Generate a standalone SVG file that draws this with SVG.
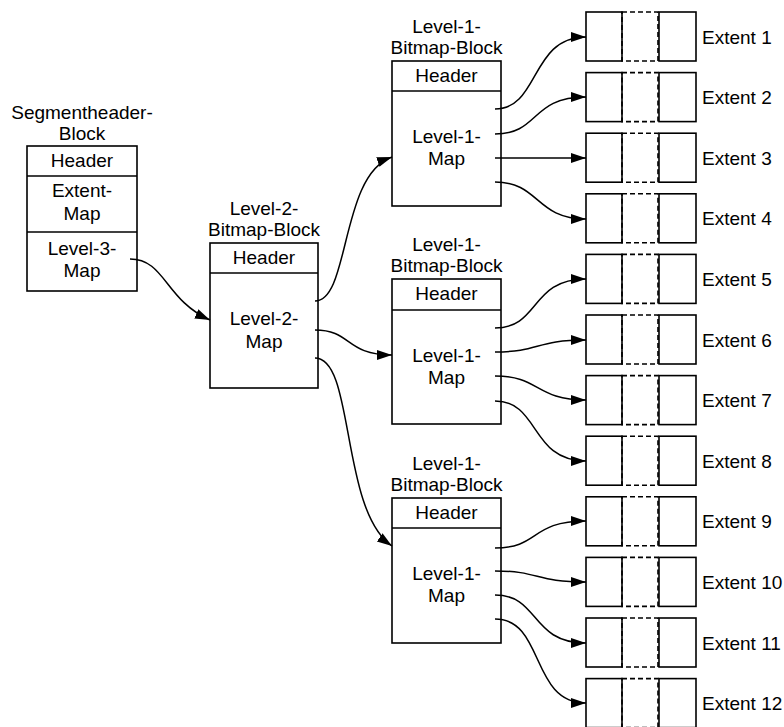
<svg xmlns="http://www.w3.org/2000/svg" width="784" height="727" viewBox="0 0 784 727">
<style>
  .box { fill: #ffffff; stroke: #000000; stroke-width: 1.6; }
  .sep { stroke: #000000; stroke-width: 1.6; fill: none; }
  .dash { fill: none; stroke: #000000; stroke-width: 1.6; stroke-dasharray: 5 3; }
  .t { font-family: "Liberation Sans", Arial, sans-serif; font-size: 19px; fill: #000000; text-anchor: middle; }
  .tl { font-family: "Liberation Sans", Arial, sans-serif; font-size: 19px; fill: #000000; }
  .c { fill: none; stroke: #000000; stroke-width: 1.5; marker-end: url(#arr); }
</style>
<defs>
  <marker id="arr" markerUnits="userSpaceOnUse" markerWidth="16" markerHeight="12" refX="15" refY="5" orient="auto">
    <path d="M0,0 L15,5 L0,10 z" fill="#000000"/>
  </marker>
  <g id="ext">
    <rect class="box" x="0" y="0" width="36" height="49"/>
    <rect class="dash" x="36" y="0" width="36" height="49"/>
    <rect class="box" x="73" y="0" width="37" height="49"/>
  </g>
</defs>
<rect width="784" height="727" fill="#ffffff"/>

<g id="segmentheader-block">
  <text class="t" x="82" y="119">Segmentheader-</text>
  <text class="t" x="82" y="140">Block</text>
  <rect class="box" x="27" y="146" width="110" height="145"/>
  <line class="sep" x1="27" y1="176" x2="137" y2="176"/>
  <line class="sep" x1="27" y1="232" x2="137" y2="232"/>
  <text class="t" x="82" y="167">Header</text>
  <text class="t" x="82" y="197">Extent-</text>
  <text class="t" x="82" y="220">Map</text>
  <text class="t" x="82" y="255">Level-3-</text>
  <text class="t" x="82" y="277">Map</text>
</g>

<g id="level2-block">
  <text class="t" x="264" y="215">Level-2-</text>
  <text class="t" x="264" y="236">Bitmap-Block</text>
  <rect class="box" x="210" y="243" width="108" height="145"/>
  <line class="sep" x1="210" y1="273" x2="318" y2="273"/>
  <text class="t" x="264" y="264">Header</text>
  <text class="t" x="264" y="325">Level-2-</text>
  <text class="t" x="264" y="348">Map</text>
</g>

<g id="level1-block-1">
  <text class="t" x="446.5" y="33">Level-1-</text>
  <text class="t" x="446.5" y="54">Bitmap-Block</text>
  <rect class="box" x="392" y="61" width="109" height="145"/>
  <line class="sep" x1="392" y1="91" x2="501" y2="91"/>
  <text class="t" x="446.5" y="82">Header</text>
  <text class="t" x="446.5" y="143">Level-1-</text>
  <text class="t" x="446.5" y="165">Map</text>
</g>

<g id="level1-block-2">
  <text class="t" x="446.5" y="251">Level-1-</text>
  <text class="t" x="446.5" y="272">Bitmap-Block</text>
  <rect class="box" x="392" y="279" width="109" height="145"/>
  <line class="sep" x1="392" y1="310" x2="501" y2="310"/>
  <text class="t" x="446.5" y="300">Header</text>
  <text class="t" x="446.5" y="362">Level-1-</text>
  <text class="t" x="446.5" y="384">Map</text>
</g>

<g id="level1-block-3">
  <text class="t" x="446.5" y="470">Level-1-</text>
  <text class="t" x="446.5" y="491">Bitmap-Block</text>
  <rect class="box" x="392" y="498" width="109" height="145"/>
  <line class="sep" x1="392" y1="528" x2="501" y2="528"/>
  <text class="t" x="446.5" y="519">Header</text>
  <text class="t" x="446.5" y="580">Level-1-</text>
  <text class="t" x="446.5" y="602">Map</text>
</g>

<g id="extent-1"><use href="#ext" x="586" y="12"/><text class="tl" x="702" y="43.5">Extent 1</text></g>
<g id="extent-2"><use href="#ext" x="586" y="72.6"/><text class="tl" x="702" y="104">Extent 2</text></g>
<g id="extent-3"><use href="#ext" x="586" y="133.2"/><text class="tl" x="702" y="164.5">Extent 3</text></g>
<g id="extent-4"><use href="#ext" x="586" y="193.8"/><text class="tl" x="702" y="225">Extent 4</text></g>
<g id="extent-5"><use href="#ext" x="586" y="254.4"/><text class="tl" x="702" y="286">Extent 5</text></g>
<g id="extent-6"><use href="#ext" x="586" y="315"/><text class="tl" x="702" y="346.5">Extent 6</text></g>
<g id="extent-7"><use href="#ext" x="586" y="375.6"/><text class="tl" x="702" y="407">Extent 7</text></g>
<g id="extent-8"><use href="#ext" x="586" y="436.2"/><text class="tl" x="702" y="467.5">Extent 8</text></g>
<g id="extent-9"><use href="#ext" x="586" y="496.8"/><text class="tl" x="702" y="528">Extent 9</text></g>
<g id="extent-10"><use href="#ext" x="586" y="557.4"/><text class="tl" x="702" y="589">Extent 10</text></g>
<g id="extent-11"><use href="#ext" x="586" y="618"/><text class="tl" x="702" y="649.5">Extent 11</text></g>
<g id="extent-12"><use href="#ext" x="586" y="678.6"/><text class="tl" x="702" y="710">Extent 12</text></g>

<g id="connectors">
  <path class="c" d="M130,259 C165,259 165,300 210,320"/>
  <path class="c" d="M315,301 C350,301 340,175 392,157"/>
  <path class="c" d="M315,330 C352,330 345,355 392,355"/>
  <path class="c" d="M315,358 C355,358 340,510 392,546"/>

  <path class="c" d="M495,109 C540,109 530,37 586,37"/>
  <path class="c" d="M495,134 C540,134 530,97 586,97"/>
  <path class="c" d="M495,158 L586,158"/>
  <path class="c" d="M495,182 C540,182 535,219 586,219"/>

  <path class="c" d="M495,328 C540,328 530,279 586,279"/>
  <path class="c" d="M495,352 C540,352 535,340 586,340"/>
  <path class="c" d="M495,376 C540,376 535,400 586,400"/>
  <path class="c" d="M495,401 C540,401 530,461 586,461"/>

  <path class="c" d="M495,548 C540,548 530,521 586,521"/>
  <path class="c" d="M495,571 C540,571 535,582 586,582"/>
  <path class="c" d="M495,595 C540,595 530,643 586,643"/>
  <path class="c" d="M495,619 C545,619 530,703 586,703"/>
</g>
</svg>
